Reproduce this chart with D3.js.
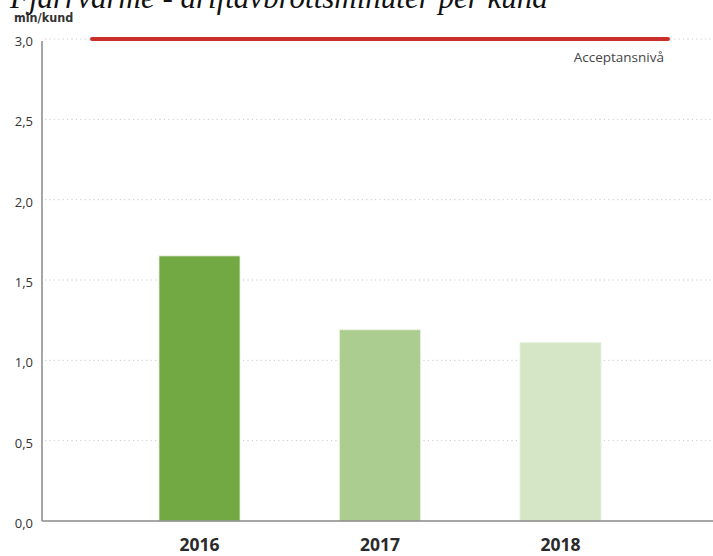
<!DOCTYPE html>
<html>
<head>
<meta charset="utf-8">
<script src="https://cdn.jsdelivr.net/npm/d3@7"></script>
<style>
  html, body { margin: 0; padding: 0; background: #fff; overflow: hidden; }
  svg { display: block; }
</style>
</head>
<body>
<svg id="chart" width="713" height="556"></svg>
<script>
const titleText = "Fjärrvärme - driftavbrottsminuter per kund";
const unitLabel = "min/kund";
const categories = ["2016", "2017", "2018"];
const values = [1.65, 1.19, 1.11];
const barColors = ["#72a943", "#abcd8f", "#d5e6c6"];
const yTicks = [0, 0.5, 1.0, 1.5, 2.0, 2.5, 3.0];
const acceptanceLevel = 3.0;
const acceptanceLabel = "Acceptansnivå";

(function () {
const svg = d3.select("#chart");
const mLeft = 42, mRight = 718, mTop = 39, mBottom = 521;

const x = d3.scaleBand().domain(categories).range([mLeft, mRight])
  .paddingInner(0.551).paddingOuter(0.648);
const y = d3.scaleLinear().domain([0, 3]).range([mBottom, mTop]);
const fmt = d => d3.format(".1f")(d).replace(".", ",");

// title (partly cut off at top, as in the source)
svg.append("text").attr("x", 10).attr("y", 8)
  .attr("font-family", "'Liberation Serif', serif").attr("font-style", "italic")
  .attr("font-size", 31).attr("fill", "#111").text(titleText);

// unit label
svg.append("text").attr("x", 14).attr("y", 22)
  .attr("font-family", "'DejaVu Sans Condensed', 'DejaVu Sans', sans-serif").attr("font-weight", "bold")
  .attr("font-size", 12.5).attr("fill", "#333").text(unitLabel);

// gridlines
svg.append("g").selectAll("line").data(yTicks.filter(d => d > 0)).join("line")
  .attr("x1", mLeft + 3).attr("x2", 713)
  .attr("y1", d => y(d)).attr("y2", d => y(d))
  .attr("stroke", "#c8c8c8").attr("stroke-width", 1).attr("stroke-dasharray", "1.2,3.2");

// y axis
const yAxis = d3.axisLeft(y).tickValues(yTicks).tickFormat(fmt).tickSize(0).tickPadding(9);
const gy = svg.append("g").attr("transform", `translate(${mLeft},0)`).call(yAxis);
gy.select(".domain").remove();
gy.selectAll("text").attr("font-family", "'Open Sans', sans-serif").attr("font-size", 13)
  .attr("fill", "#333").attr("dy", "0.5em");
svg.append("line").attr("x1", mLeft).attr("x2", mLeft).attr("y1", y(3) + 2).attr("y2", mBottom)
  .attr("stroke", "#888").attr("stroke-width", 1.5);

// bars
svg.append("g").selectAll("rect").data(categories).join("rect")
  .attr("x", d => x(d)).attr("width", x.bandwidth())
  .attr("y", (d, i) => y(values[i])).attr("height", (d, i) => y(0) - y(values[i]))
  .attr("fill", (d, i) => barColors[i])
  .attr("stroke", "#e8f0e0").attr("stroke-width", 0.8);

// x axis
const xAxis = d3.axisBottom(x).tickSize(0).tickPadding(18);
const gx = svg.append("g").attr("transform", `translate(0,${mBottom})`).call(xAxis);
gx.select(".domain").remove();
gx.selectAll("text").attr("font-family", "'Open Sans', sans-serif").attr("font-weight", "bold")
  .attr("font-size", 17.5).attr("fill", "#2a2a2a");
svg.append("line").attr("x1", mLeft).attr("x2", 713).attr("y1", mBottom).attr("y2", mBottom)
  .attr("stroke", "#888").attr("stroke-width", 1.5);

// acceptance line
const step = x.step();
const lx1 = x(categories[0]) - step * 0.371;
const lx2 = x(categories[categories.length - 1]) + x.bandwidth() + step * 0.371;
svg.append("line").attr("x1", lx1).attr("x2", lx2)
  .attr("y1", y(acceptanceLevel)).attr("y2", y(acceptanceLevel))
  .attr("stroke", "#c9302c").attr("stroke-width", 4).attr("stroke-linecap", "round");
svg.append("text").attr("x", lx2 - 4).attr("y", y(acceptanceLevel) + 23)
  .attr("text-anchor", "end")
  .attr("font-family", "'Open Sans', sans-serif").attr("font-size", 13.5)
  .attr("fill", "#444").text(acceptanceLabel);
})();
</script>
</body>
</html>
